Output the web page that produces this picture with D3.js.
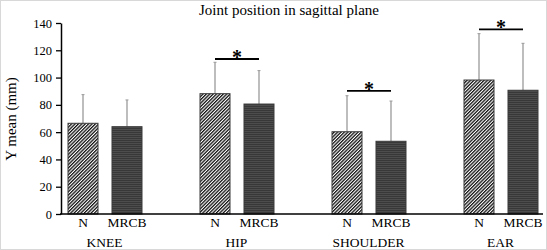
<!DOCTYPE html>
<html>
<head>
<meta charset="UTF-8">
<title></title>
<script src="https://cdn.jsdelivr.net/npm/d3@7"></script>
<style>
    body{margin:0;background:#fff;}
    text{font-family:"Liberation Serif","Times New Roman",serif;fill:#000;}
</style>
</head>
<body>
<div id="chart"></div>
<script>
    var joints=['KNEE','HIP','SHOULDER','EAR'];
    var groups=['N','MRCB'];
    var meanN=[66.5,88.2,60.3,98.2];
    var meanMRCB=[64.0,80.6,53.3,90.7];
    var sdN=[21.0,23.0,26.4,34.0];
    var sdMRCB=[19.6,24.5,29.5,34.4];
    var significant=[false,true,true,true];
    var sigLevel=[0,113.6,90.2,135.4];
    var yTicks=[0,20,40,60,80,100,120,140];

    var width=547,height=250;
    var svg=d3.select('#chart').append('svg')
            .attr('width',width)
            .attr('height',height);

    var defs=svg.append('defs');
    // diagonal hatching for N
    var p1=defs.append('pattern')
            .attr('id','hatch')
            .attr('patternUnits','userSpaceOnUse')
            .attr('width',2.4).attr('height',2.4)
            .attr('patternTransform','rotate(45)');
    p1.append('rect').attr('width',2.4).attr('height',2.4).attr('fill','#fff');
    p1.append('rect').attr('width',1.3).attr('height',2.4).attr('fill','#111');
    // horizontal stripes for MRCB
    var p2=defs.append('pattern')
            .attr('id','stripe')
            .attr('patternUnits','userSpaceOnUse')
            .attr('width',4).attr('height',2);
    p2.append('rect').attr('width',4).attr('height',2).attr('fill','#383838');
    p2.append('rect').attr('y',1).attr('width',4).attr('height',0.6).attr('fill','#5a5a5a');

    svg.append('rect')
            .attr('x',0.5).attr('y',0.5)
            .attr('width',width-1).attr('height',height-1)
            .attr('fill','none').attr('stroke','#d8d8d8');

    var y=d3.scaleLinear().domain([0,140]).range([214,23]);
    var x0=d3.scaleBand().domain(joints).range([38.5,566.5]);
    var x1=d3.scaleBand().domain(groups).range([29.5,103.5]).paddingInner(0.318);

    var rows=joints.map(function(j,i){
        return [
            {joint:j,g:'N',v:meanN[i],sd:sdN[i]},
            {joint:j,g:'MRCB',v:meanMRCB[i],sd:sdMRCB[i]}
        ];
    });

    var gj=svg.selectAll('g.joint')
            .data(rows)
            .enter()
            .append('g')
            .attr('class','joint')
            .attr('transform',function(d){return 'translate('+x0(d[0].joint)+',0)'});

    // error bars behind the bars
    gj.selectAll('line.err')
            .data(function(d){return d})
            .enter()
            .append('line')
            .attr('class','err')
            .attr('x1',function(d){return x1(d.g)+x1.bandwidth()/2})
            .attr('x2',function(d){return x1(d.g)+x1.bandwidth()/2})
            .attr('y1',function(d){return y(d.v)})
            .attr('y2',function(d){return y(d.v+d.sd)})
            .attr('stroke','#9a9a9a').attr('stroke-width',1.3);
    gj.selectAll('line.cap')
            .data(function(d){return d})
            .enter()
            .append('line')
            .attr('class','cap')
            .attr('x1',function(d){return x1(d.g)+x1.bandwidth()/2-1.5})
            .attr('x2',function(d){return x1(d.g)+x1.bandwidth()/2+1.5})
            .attr('y1',function(d){return y(d.v+d.sd)})
            .attr('y2',function(d){return y(d.v+d.sd)})
            .attr('stroke','#9a9a9a').attr('stroke-width',1);

    gj.selectAll('rect.bar')
            .data(function(d){return d})
            .enter()
            .append('rect')
            .attr('class','bar')
            .attr('x',function(d){return x1(d.g)})
            .attr('y',function(d){return y(d.v)})
            .attr('width',x1.bandwidth())
            .attr('height',function(d){return y(0)-y(d.v)})
            .attr('fill',function(d){return d.g=='N'?'url(#hatch)':'url(#stripe)'})
            .attr('stroke','#3a3a3a').attr('stroke-width',1);

    // group labels N / MRCB
    gj.selectAll('text.grp')
            .data(function(d){return d})
            .enter()
            .append('text')
            .attr('class','grp')
            .attr('x',function(d){return x1(d.g)+x1.bandwidth()/2})
            .attr('y',227)
            .attr('text-anchor','middle')
            .style('font-size','13.5px')
            .text(function(d){return d.g});

    gj.append('text')
            .attr('x',x0.bandwidth()/2)
            .attr('y',246.5)
            .attr('text-anchor','middle')
            .style('font-size','13.5px')
            .text(function(d){return d[0].joint});

    // significance markers
    var sig=gj.filter(function(d,i){return significant[i]});
    sig.append('line')
            .attr('x1',x1('N')+x1.bandwidth()/2)
            .attr('x2',x1('MRCB')+x1.bandwidth()/2)
            .attr('y1',function(d){return y(sigLevel[joints.indexOf(d[0].joint)])})
            .attr('y2',function(d){return y(sigLevel[joints.indexOf(d[0].joint)])})
            .attr('stroke','#000').attr('stroke-width',1.8);
    sig.append('text')
            .attr('x',(x1('N')+x1('MRCB')+x1.bandwidth())/2)
            .attr('y',function(d){return y(sigLevel[joints.indexOf(d[0].joint)])+5})
            .attr('text-anchor','middle')
            .style('font-size','20px').style('font-weight','bold')
            .text('*');

    // axes
    var yAxis=d3.axisLeft(y).tickValues(yTicks).tickSize(5).tickSizeOuter(0);
    var ga=svg.append('g').attr('transform','translate(61,0)').call(yAxis);
    ga.select('.domain').attr('stroke','#000').attr('stroke-width',1.5);
    ga.selectAll('.tick line').attr('stroke','#000').attr('stroke-width',1.3);
    ga.selectAll('.tick text')
            .attr('x',-9)
            .style('font-family','"Liberation Serif",serif')
            .style('font-size','12.5px');

    svg.append('line')
            .attr('x1',60).attr('x2',543)
            .attr('y1',y(0)).attr('y2',y(0))
            .attr('stroke','#000').attr('stroke-width',1.5);

    svg.append('text')
            .attr('transform','translate(16,119) rotate(-90)')
            .attr('text-anchor','middle')
            .style('font-size','15px')
            .text('Y mean (mm)');

    svg.append('text')
            .attr('x',289).attr('y',15)
            .attr('text-anchor','middle')
            .style('font-size','15px')
            .text('Joint position in sagittal plane');
</script>
</body>
</html>
